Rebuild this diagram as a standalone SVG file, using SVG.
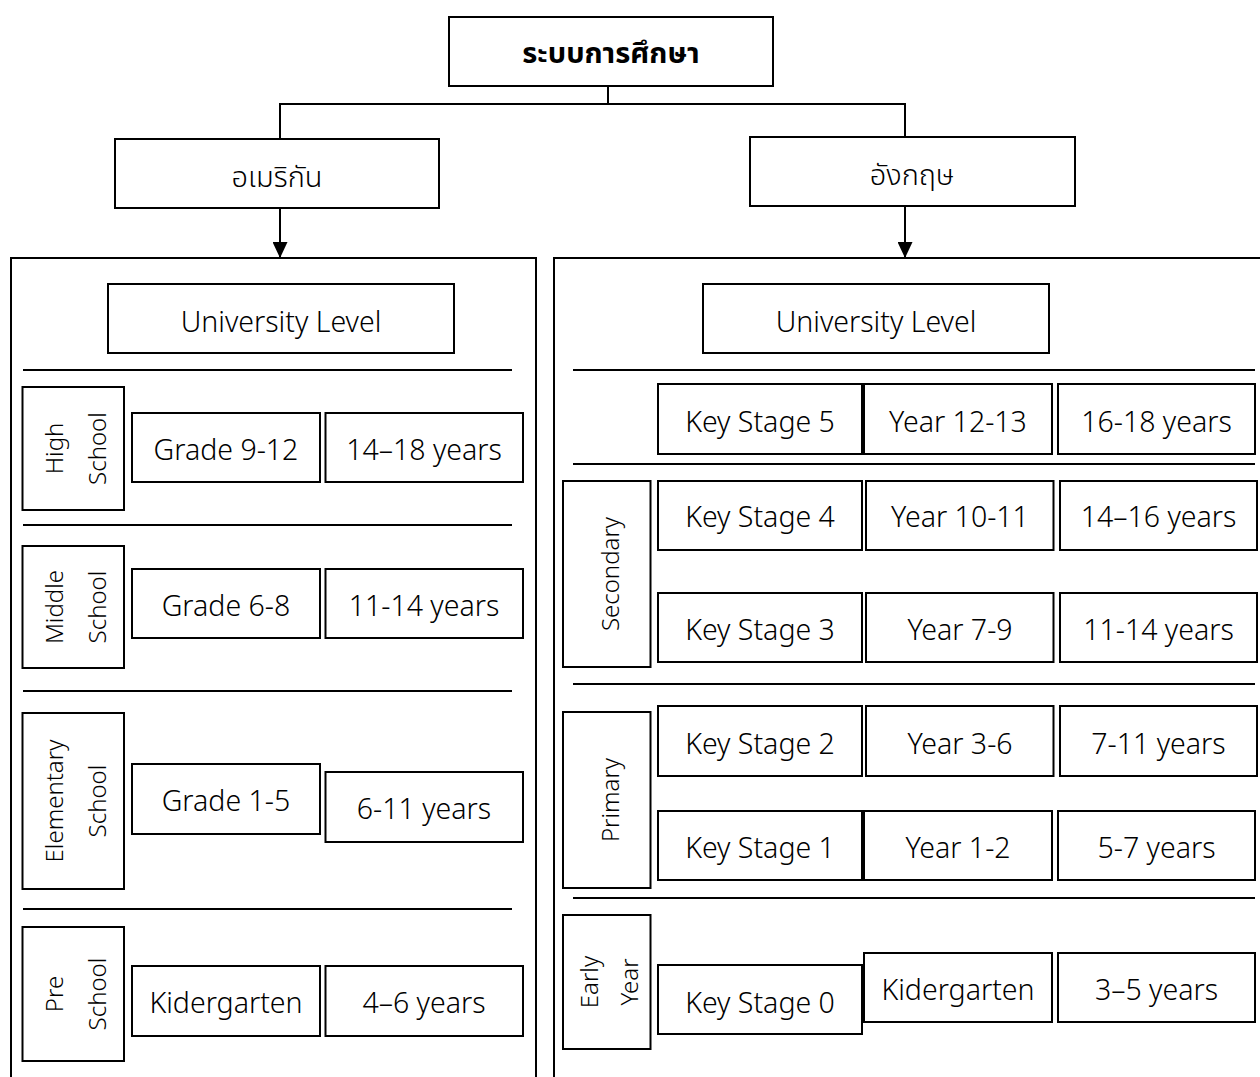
<svg xmlns="http://www.w3.org/2000/svg" width="1260" height="1077" viewBox="0 0 1260 1077">
<defs>
<style>
text{font-family:"Noto Sans","Noto Sans Thai","Open Sans","DejaVu Sans",sans-serif;fill:#000;text-anchor:middle;font-weight:300}
.b{fill:#fff;stroke:#000;stroke-width:2}
.c{fill:none;stroke:#000;stroke-width:2}
.sep{stroke:#000;stroke-width:2}
.t{font-size:28.5px}
.v{font-size:24px}
.th{font-size:29px}
.bold{font-weight:bold}
</style>
<marker id="arr" markerWidth="16" markerHeight="15" refX="16" refY="7.5" orient="auto" markerUnits="userSpaceOnUse">
<path d="M0,0 L16,7.5 L0,15 Z" fill="#000"/>
</marker>
</defs>
<rect width="1260" height="1077" fill="#fff"/>

<g id="containers">
<rect class="c" x="11" y="258" width="525" height="840"/>
<rect class="c" x="554" y="258" width="720" height="840"/>
<line class="sep" x1="23" y1="370" x2="512" y2="370"/>
<line class="sep" x1="23" y1="525" x2="512" y2="525"/>
<line class="sep" x1="23" y1="691" x2="512" y2="691"/>
<line class="sep" x1="23" y1="909" x2="512" y2="909"/>
<line class="sep" x1="573" y1="370" x2="1255" y2="370"/>
<line class="sep" x1="573" y1="464" x2="1255" y2="464"/>
<line class="sep" x1="573" y1="684" x2="1255" y2="684"/>
<line class="sep" x1="573" y1="898" x2="1255" y2="898"/>
</g>

<g id="connectors">
<polyline class="c" points="608,86 608,104 280,104 280,139"/>
<polyline class="c" points="608,104 905,104 905,137"/>
<line class="c" x1="280" y1="208" x2="280" y2="258" marker-end="url(#arr)"/>
<line class="c" x1="905" y1="206" x2="905" y2="258" marker-end="url(#arr)"/>
</g>

<g id="root"><rect class="b" x="449" y="17" width="324" height="69"/><text class="th bold" x="611" y="63">ระบบการศึกษา</text></g>
<g id="american"><rect class="b" x="115" y="139" width="324" height="69"/><text class="th" x="277" y="187">อเมริกัน</text></g>
<g id="english"><rect class="b" x="750" y="137" width="325" height="69"/><text class="th" x="912" y="185">อังกฤษ</text></g>

<g id="us-university"><rect class="b" x="108" y="284" width="346" height="69"/><text class="t" x="281" y="332">University Level</text></g>
<g id="uk-university"><rect class="b" x="703" y="284" width="346" height="69"/><text class="t" x="876" y="332">University Level</text></g>

<g id="us-high">
<rect class="b" x="22.5" y="387" width="101.5" height="123"/>
<text class="v" transform="translate(63,448.5) rotate(-90)">High</text>
<text class="v" transform="translate(106,448.5) rotate(-90)">School</text>
</g>
<g id="us-grade-9-12"><rect class="b" x="132" y="413" width="188" height="69"/><text class="t" x="226" y="460">Grade 9-12</text></g>
<g id="us-age-14-18"><rect class="b" x="325.5" y="413" width="197.5" height="69"/><text class="t" x="424" y="460">14–18 years</text></g>

<g id="us-middle">
<rect class="b" x="22.5" y="546" width="101.5" height="122"/>
<text class="v" transform="translate(63,607) rotate(-90)">Middle</text>
<text class="v" transform="translate(106,607) rotate(-90)">School</text>
</g>
<g id="us-grade-6-8"><rect class="b" x="132" y="569" width="188" height="69"/><text class="t" x="226" y="616">Grade 6-8</text></g>
<g id="us-age-11-14"><rect class="b" x="325.5" y="569" width="197.5" height="69"/><text class="t" x="424" y="616">11-14 years</text></g>

<g id="us-elementary">
<rect class="b" x="22.5" y="713" width="101.5" height="176"/>
<text class="v" transform="translate(63,801) rotate(-90)">Elementary</text>
<text class="v" transform="translate(106,801) rotate(-90)">School</text>
</g>
<g id="us-grade-1-5"><rect class="b" x="132" y="764" width="188" height="70"/><text class="t" x="226" y="811">Grade 1-5</text></g>
<g id="us-age-6-11"><rect class="b" x="325.5" y="772" width="197.5" height="70"/><text class="t" x="424" y="819">6-11 years</text></g>

<g id="us-pre">
<rect class="b" x="22.5" y="927" width="101.5" height="134"/>
<text class="v" transform="translate(63,994) rotate(-90)">Pre</text>
<text class="v" transform="translate(106,994) rotate(-90)">School</text>
</g>
<g id="us-kindergarten"><rect class="b" x="132" y="966" width="188" height="70"/><text class="t" x="226" y="1013">Kidergarten</text></g>
<g id="us-age-4-6"><rect class="b" x="325.5" y="966" width="197.5" height="70"/><text class="t" x="424" y="1013">4–6 years</text></g>

<g id="uk-ks5"><rect class="b" x="658" y="384" width="204" height="70"/><text class="t" x="760" y="432">Key Stage 5</text></g>
<g id="uk-year-12-13"><rect class="b" x="864" y="384" width="188" height="70"/><text class="t" x="958" y="432">Year 12-13</text></g>
<g id="uk-age-16-18"><rect class="b" x="1058" y="384" width="197" height="70"/><text class="t" x="1156.5" y="432">16-18 years</text></g>

<g id="uk-secondary">
<rect class="b" x="563" y="481" width="87.5" height="186"/>
<text class="v" transform="translate(619,574) rotate(-90)">Secondary</text>
</g>
<g id="uk-ks4"><rect class="b" x="658" y="481" width="204" height="69"/><text class="t" x="760" y="527">Key Stage 4</text></g>
<g id="uk-year-10-11"><rect class="b" x="866" y="481" width="187.5" height="69"/><text class="t" x="960" y="527">Year 10-11</text></g>
<g id="uk-age-14-16"><rect class="b" x="1060" y="481" width="197" height="69"/><text class="t" x="1158.5" y="527">14–16 years</text></g>
<g id="uk-ks3"><rect class="b" x="658" y="593" width="204" height="69"/><text class="t" x="760" y="640">Key Stage 3</text></g>
<g id="uk-year-7-9"><rect class="b" x="866" y="593" width="187.5" height="69"/><text class="t" x="960" y="640">Year 7-9</text></g>
<g id="uk-age-11-14"><rect class="b" x="1060" y="593" width="197" height="69"/><text class="t" x="1158.5" y="640">11-14 years</text></g>

<g id="uk-primary">
<rect class="b" x="563" y="712" width="87.5" height="176"/>
<text class="v" transform="translate(619,800) rotate(-90)">Primary</text>
</g>
<g id="uk-ks2"><rect class="b" x="658" y="706" width="204" height="70"/><text class="t" x="760" y="754">Key Stage 2</text></g>
<g id="uk-year-3-6"><rect class="b" x="866" y="706" width="187.5" height="70"/><text class="t" x="960" y="754">Year 3-6</text></g>
<g id="uk-age-7-11"><rect class="b" x="1060" y="706" width="197" height="70"/><text class="t" x="1158.5" y="754">7-11 years</text></g>
<g id="uk-ks1"><rect class="b" x="658" y="811" width="204" height="69"/><text class="t" x="760" y="858">Key Stage 1</text></g>
<g id="uk-year-1-2"><rect class="b" x="864" y="811" width="188" height="69"/><text class="t" x="958" y="858">Year 1-2</text></g>
<g id="uk-age-5-7"><rect class="b" x="1058" y="811" width="197" height="69"/><text class="t" x="1156.5" y="858">5-7 years</text></g>

<g id="uk-early">
<rect class="b" x="563" y="915" width="87.5" height="134"/>
<text class="v" transform="translate(598,982) rotate(-90)">Early</text>
<text class="v" transform="translate(638,982) rotate(-90)">Year</text>
</g>
<g id="uk-ks0"><rect class="b" x="658" y="965" width="204" height="69"/><text class="t" x="760" y="1013">Key Stage 0</text></g>
<g id="uk-kindergarten"><rect class="b" x="864" y="953" width="188" height="69"/><text class="t" x="958" y="1000">Kidergarten</text></g>
<g id="uk-age-3-5"><rect class="b" x="1058" y="953" width="197" height="69"/><text class="t" x="1156.5" y="1000">3–5 years</text></g>
</svg>
